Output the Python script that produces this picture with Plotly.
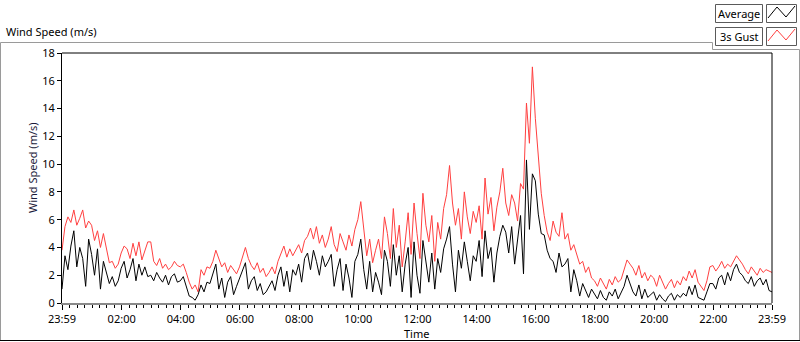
import pandas as pd
import plotly.graph_objects as go

# ---- data: one reading every 6 minutes, from 23:59 to 23:59 next day ----
start_time = "2024-01-01 23:59"
step_minutes = 6

gust_3s = [
    # 23:59-00:59
    3.8, 5.5, 6.2, 5.8, 6.7, 5.6, 6.1, 6.7, 5.4, 5.9,
    # 01
    5.6, 4.5, 5.2, 4.0, 5.0, 3.9, 2.9, 3.0, 2.5, 2.8,
    # 02
    3.6, 4.1, 3.9, 3.2, 4.3, 3.4, 4.4, 3.1, 3.8, 4.4,
    # 03
    4.4, 3.0, 2.7, 3.2, 2.5, 2.8, 2.4, 2.6, 3.0, 2.7,
    # 04
    2.6, 2.8, 2.2, 1.5, 1.0, 1.3, 0.8, 2.4, 2.0, 2.6,
    # 05
    2.5, 3.0, 3.8, 3.2, 2.6, 2.9, 2.2, 2.7, 2.4, 2.1,
    # 06
    2.6, 3.4, 4.0, 3.2, 2.7, 2.4, 2.9, 2.2, 2.5, 1.9,
    # 07
    2.2, 2.6, 2.1, 3.0, 3.6, 4.1, 3.3, 3.9, 3.4, 3.8,
    # 08
    4.2, 3.6, 4.5, 4.8, 5.4, 4.6, 5.5, 4.3, 4.9, 4.0,
    # 09
    4.6, 5.5, 4.2, 3.7, 5.0, 4.4, 3.8, 4.9, 4.1, 5.3,
    # 10
    6.0, 7.3, 5.2, 3.4, 4.6, 2.9, 3.8, 4.6, 3.2, 6.2,
    # 11
    5.0, 3.2, 6.8, 4.0, 5.6, 2.6, 4.4, 6.5, 3.5, 7.2,
    # 12
    5.0, 3.2, 7.9, 5.6, 4.4, 6.3, 3.0, 5.8, 4.6, 6.8,
    # 13
    7.8, 9.9, 7.2, 5.6, 6.8, 4.6, 8.0, 6.2, 5.0, 6.6,
    # 14
    5.8, 7.0, 4.6, 9.0, 6.4, 7.6, 5.2, 6.9, 8.0, 9.7,
    # 15
    7.2, 6.3, 7.8, 7.2, 5.9, 8.6, 8.2, 14.4, 11.5, 17.0,
    # 16
    13.3, 10.3, 7.9, 6.3, 5.1, 4.5, 5.9, 5.1, 4.8, 6.5,
    # 17
    4.6, 5.0, 3.8, 4.2, 3.4, 2.8, 3.0, 2.2, 2.6, 1.8,
    # 18
    1.6, 1.2, 1.8, 1.4, 1.0, 1.7, 1.3, 1.9, 1.5, 1.7,
    # 19
    2.4, 3.1, 2.8, 2.5, 2.0, 2.7, 1.8, 2.2, 1.6, 2.0,
    # 20
    1.8, 1.2, 2.0, 1.5, 1.0, 1.4, 1.7, 1.1, 1.6, 1.3,
    # 21
    1.9, 1.6, 2.3, 1.8, 2.4, 1.5, 1.2, 0.9, 1.6, 2.6,
    # 22
    2.7, 2.3, 2.6, 3.0, 2.5, 2.8, 2.6, 3.0, 3.4, 3.1,
    # 23
    2.8, 2.4, 2.1, 2.6, 2.3, 2.0, 2.5, 2.2, 2.4, 2.3,
    2.2,
]

average = [
    1.0, 3.4, 2.4, 4.1, 5.2, 2.6, 4.0, 3.2, 1.2, 4.6,
    3.5, 2.0, 3.9, 1.0, 3.0, 2.2, 1.4, 1.9, 1.2, 1.6,
    2.5, 3.0, 1.8, 2.4, 3.2, 1.6, 2.8, 2.0, 2.6, 1.9,
    2.0, 1.6, 2.2, 1.8, 1.5, 2.0, 1.3, 1.9, 2.1, 1.5,
    1.6, 1.9, 1.2, 0.5, 0.4, 0.2, 0.6, 1.3, 0.8, 1.5,
    1.4, 2.2, 2.8, 1.0, 1.8, 0.4, 1.5, 1.9, 0.6, 1.2,
    1.8, 2.4, 2.9, 1.0, 1.6, 1.9, 0.9, 1.4, 0.6, 0.8,
    1.2, 1.6, 0.9, 2.0, 2.6, 1.2, 2.3, 0.8, 2.4, 2.0,
    2.8, 1.5, 3.2, 3.6, 2.4, 3.8, 3.0, 2.0, 3.4, 2.6,
    3.0, 3.5, 1.2, 2.4, 3.2, 0.9, 2.8, 1.8, 0.4, 3.0,
    3.5, 4.6, 2.4, 1.0, 3.0, 0.8, 2.2, 1.5, 0.6, 3.8,
    3.0, 1.2, 4.2, 2.0, 3.4, 0.8, 2.8, 4.0, 0.4, 4.4,
    2.0, 0.7, 4.5, 3.0, 1.5, 3.6, 1.0, 3.2, 2.2, 3.9,
    4.6, 5.5, 2.8, 0.8, 3.8, 2.5, 4.4, 3.0, 1.6, 3.4,
    3.0, 4.5, 1.9, 5.2, 3.2, 4.0, 1.5, 3.6, 4.8, 5.6,
    5.1, 3.6, 5.5, 2.8, 4.4, 6.3, 2.1, 10.3, 5.3, 9.3,
    8.8, 6.4, 5.0, 4.9, 3.8, 3.2, 3.0, 2.2, 3.6, 2.6,
    2.8, 3.2, 0.8, 2.4, 1.6, 0.5, 1.4, 0.9, 0.4, 1.0,
    0.6, 0.3, 0.9, 0.4, 0.2, 0.8, 0.5, 1.0, 0.3, 0.7,
    1.2, 2.0, 1.4, 0.8, 0.5, 1.3, 0.3, 1.0, 0.4, 0.6,
    0.8, 0.2, 0.6, 0.3, 0.1, 0.5, 0.7, 0.2, 0.6, 0.4,
    0.7, 0.5, 1.2, 0.6, 1.3, 0.4, 0.3, 0.2, 0.8, 1.4,
    1.4, 1.0, 1.8, 2.0, 1.3, 2.2, 1.6, 2.4, 2.8, 2.2,
    2.0, 1.6, 1.4, 1.9, 1.2, 1.6, 1.8, 1.3, 1.7, 0.9,
    0.8,
]

tick_times = ["2024-01-01 23:59", "2024-01-02 02:00", "2024-01-02 04:00",
              "2024-01-02 06:00", "2024-01-02 08:00", "2024-01-02 10:00",
              "2024-01-02 12:00", "2024-01-02 14:00", "2024-01-02 16:00",
              "2024-01-02 18:00", "2024-01-02 20:00", "2024-01-02 22:00",
              "2024-01-02 23:59"]
tick_labels = ["23:59", "02:00", "04:00", "06:00", "08:00", "10:00", "12:00",
               "14:00", "16:00", "18:00", "20:00", "22:00", "23:59"]
y_ticks = [0, 2, 4, 6, 8, 10, 12, 14, 16, 18]

times = pd.date_range(start_time, periods=len(gust_3s), freq=f"{step_minutes}min")

# ---- geometry helpers (pixel -> paper) ----
W, H = 800, 342
L, R, T, B = 62, 772, 53, 303
def px(x):
    return (x - L) / (R - L)
def py(y):
    return (B - y) / (B - T)

FONT = "Noto Sans"
fig = go.Figure()
fig.add_trace(go.Scatter(x=times, y=gust_3s, mode="lines", name="3s Gust",
                         line=dict(color="#ff4040", width=1), showlegend=False))
fig.add_trace(go.Scatter(x=times, y=average, mode="lines", name="Average",
                         line=dict(color="#000000", width=1), showlegend=False))

fig.update_layout(
    width=W, height=H,
    margin=dict(l=L, r=W - R, t=T, b=H - B),
    paper_bgcolor="white", plot_bgcolor="white",
    font=dict(family=FONT, size=11, color="#000000"),
    xaxis=dict(
        type="date", range=[tick_times[0], tick_times[-1]],
        tickmode="array", tickvals=tick_times, ticktext=tick_labels,
        ticks="outside", ticklen=5, tickcolor="#000000", tickwidth=1,
        showgrid=False, zeroline=False,
        showline=True, linecolor="#8a8a8a", linewidth=2,
        tickfont=dict(family=FONT, size=11, color="#000000"),
        minor=dict(ticks="outside", ticklen=3, tickcolor="#000000",
                   dtick=15 * 60 * 1000, tick0="2024-01-02 00:00", showgrid=False),
    ),
    yaxis=dict(
        range=[0, 18], tickmode="array", tickvals=y_ticks,
        ticks="outside", ticklen=4, tickcolor="#000000",
        showgrid=False, zeroline=False,
        showline=True, linecolor="#000000", linewidth=1, mirror=False,
        tickfont=dict(family=FONT, size=11, color="#000000"),
    ),
)

shapes = []
# plot frame: top, right (black)
shapes.append(dict(type="line", xref="paper", yref="paper",
                   x0=0, x1=1, y0=1, y1=1, line=dict(color="black", width=1)))
shapes.append(dict(type="line", xref="paper", yref="paper",
                   x0=1, x1=1, y0=0, y1=1, line=dict(color="black", width=1)))
# outer gray frame
gray = "#9a9a9a"
def seg(x0, y0, x1, y1, color=gray, w=1):
    shapes.append(dict(type="line", xref="paper", yref="paper",
                       x0=px(x0), y0=py(y0), x1=px(x1), y1=py(y1),
                       line=dict(color=color, width=w)))
seg(0.5, 42.5, 712.5, 42.5)
seg(712.5, 42.5, 712.5, 49.5)
seg(712.5, 49.5, 799.5, 49.5)
seg(799.5, 49.5, 799.5, 341)
seg(0.5, 42.5, 0.5, 341)
seg(0, 340.5, 800, 340.5, color="#000000")

# legend boxes
def box(x0, y0, x1, y1):
    shapes.append(dict(type="rect", xref="paper", yref="paper",
                       x0=px(x0), y0=py(y0), x1=px(x1), y1=py(y1),
                       line=dict(color="#5a5a5a", width=1), fillcolor="white"))
box(715.5, 4.5, 762.5, 22.5)
box(766.5, 4.5, 796.5, 22.5)
box(715.5, 27.5, 762.5, 45.5)
box(766.5, 27.5, 796.5, 45.5)
def zig(dy, color):
    pts = [(768, 18), (777, 7), (786, 17), (795, 6)]
    path = "M " + " L ".join(f"{px(x)},{py(y + dy)}" for x, y in pts)
    shapes.append(dict(type="path", xref="paper", yref="paper", path=path,
                       line=dict(color=color, width=1)))
zig(0, "#000000")
zig(23, "#ff4040")
fig.update_layout(shapes=shapes)

ann = [
    dict(text="Wind Speed (m/s)", x=px(4), y=py(32), xanchor="left", yanchor="middle"),
    dict(text="Average", x=px(739), y=py(13.5), xanchor="center", yanchor="middle"),
    dict(text="3s Gust", x=px(739), y=py(36.5), xanchor="center", yanchor="middle"),
    dict(text="Wind Speed (m/s)", x=px(32), y=py(168), xanchor="center",
         yanchor="middle", textangle=-90, font=dict(family=FONT, size=11, color="#1a1a3a")),
    dict(text="Time", x=px(416), y=py(333), xanchor="center", yanchor="middle"),
]
for a in ann:
    a.update(xref="paper", yref="paper", showarrow=False)
    a.setdefault("font", dict(family=FONT, size=11, color="#000000"))
fig.update_layout(annotations=ann)

fig.write_html("out.html", config={"displayModeBar": False},
               post_script="document.body.style.margin='0';document.body.style.overflow='hidden';")
